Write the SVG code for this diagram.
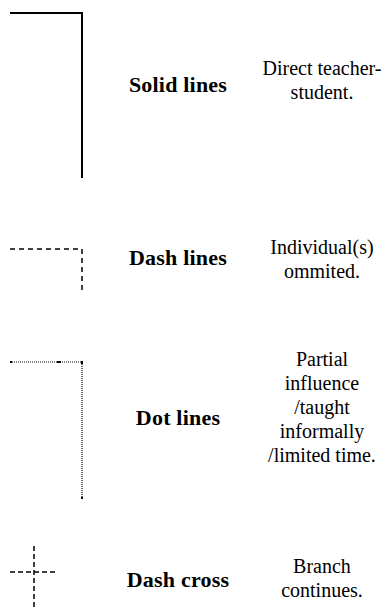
<svg xmlns="http://www.w3.org/2000/svg" width="389" height="612" viewBox="0 0 389 612">
  <style>
    .ln { fill: none; stroke: #000; }
    .lbl { font-family: "Liberation Serif", "Times New Roman", serif; font-weight: bold; font-size: 22px; letter-spacing: 0.2px; text-anchor: middle; fill: #000; }
    .desc { font-family: "Liberation Serif", "Times New Roman", serif; font-size: 20px; text-anchor: middle; fill: #000; }
    .cap { fill: #000; }
  </style>
  <rect width="389" height="612" fill="#fff"/>

  <!-- legend line samples -->
  <g id="connectors">
    <path id="solid-sample" class="ln" stroke-width="2" d="M10,13 H82 V178"/>
    <path id="dash-sample" class="ln" stroke-width="1.5" stroke-dasharray="5,4" d="M10,249 H82 V292"/>
    <path id="dot-sample" class="ln" stroke-width="1.2" stroke="#222" stroke-dasharray="1,1" d="M10,362 H82 V498"/>
    <rect class="cap" x="10" y="361" width="2" height="2"/>
    <rect class="cap" x="57" y="361" width="4" height="2"/>
    <rect class="cap" x="81" y="361" width="2" height="3"/>
    <rect class="cap" x="81" y="497" width="2" height="2"/>
    <path id="cross-h" class="ln" stroke-width="1.5" stroke-dasharray="5,3" d="M10,572 H57"/>
    <path id="cross-v" class="ln" stroke-width="1.5" stroke-dasharray="5,3" d="M34,546 V610"/>
  </g>

  <g id="solid">
    <text class="lbl" x="178" y="92">Solid lines</text>
    <text class="desc" x="322" y="75">Direct teacher-</text>
    <text class="desc" x="322" y="99">student.</text>
  </g>

  <g id="dash">
    <text class="lbl" x="178" y="265">Dash lines</text>
    <text class="desc" x="322" y="254">Individual(s)</text>
    <text class="desc" x="322" y="278">ommited.</text>
  </g>

  <g id="dot">
    <text class="lbl" x="178" y="425">Dot lines</text>
    <text class="desc" x="322" y="366">Partial</text>
    <text class="desc" x="322" y="390">influence</text>
    <text class="desc" x="322" y="414">/taught</text>
    <text class="desc" x="322" y="438">informally</text>
    <text class="desc" x="322" y="462">/limited time.</text>
  </g>

  <g id="cross">
    <text class="lbl" x="178" y="587">Dash cross</text>
    <text class="desc" x="322" y="573">Branch</text>
    <text class="desc" x="322" y="597">continues.</text>
  </g>
</svg>
